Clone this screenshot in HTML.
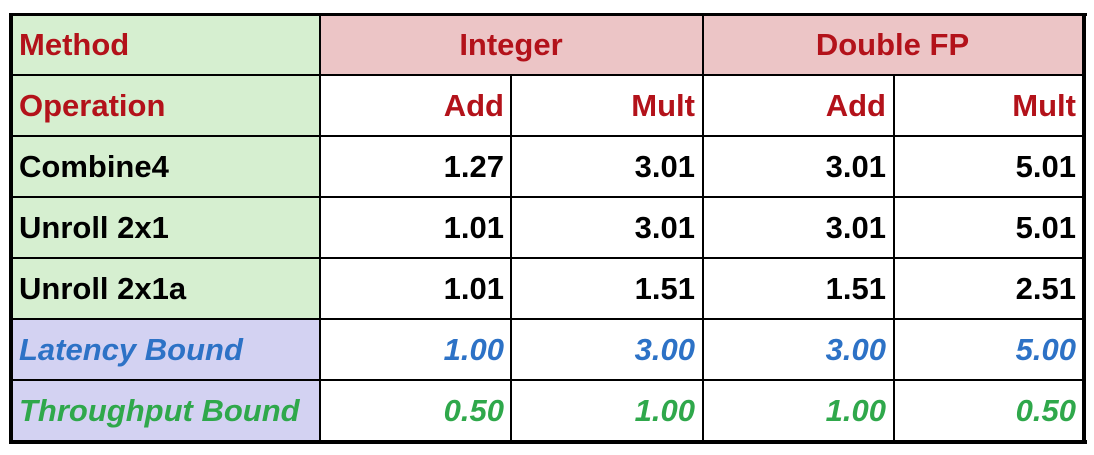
<!DOCTYPE html>
<html><head><meta charset="utf-8"><style>
body{margin:0;background:#fff;width:1094px;height:455px;position:relative;overflow:hidden;font-family:"Liberation Sans",sans-serif;font-weight:bold}
.c{position:absolute;box-sizing:border-box;display:flex;align-items:center;font-size:31px;padding:0 7px;white-space:nowrap}
.r{justify-content:flex-end}
.m{justify-content:center}
.red{color:#b3121a}.blk{color:#000}.blu{color:#2d72c6;font-style:italic}.grn{color:#2fa84b;font-style:italic}
.ln{position:absolute;background:#000}
</style></head><body>
<div id="t"></div>
<script>
const rowsY=[14,75,136,197,258,319,380,441];
const colsX=[12,320,511,702,893,1083];
const methods=["Combine4","Unroll 2x1","Unroll 2x1a","Latency Bound","Throughput Bound"];
const values=[["1.27","3.01","3.01","5.01"],["1.01","3.01","3.01","5.01"],["1.01","1.51","1.51","2.51"],["1.00","3.00","3.00","5.00"],["0.50","1.00","1.00","0.50"]];
const t=document.getElementById('t');
function cell(x0,x1,y0,y1,text,cls,bg,name){
 const d=document.createElement('div');
 d.className='c '+cls;
 d.style.left=x0+'px';d.style.top=y0+'px';d.style.width=(x1-x0)+'px';d.style.height=(y1-y0)+'px';
 if(bg)d.style.background=bg;
 d.textContent=text;
 
 
 t.appendChild(d);
}
const G='#d6efd0',P='#ecc5c6',L='#d3d2f2';
cell(colsX[0],colsX[1],rowsY[0],rowsY[1],"Method","red",G,"method-header");
cell(colsX[1],colsX[3],rowsY[0],rowsY[1],"Integer","red m",P,"integer-header");
cell(colsX[3],colsX[5],rowsY[0],rowsY[1],"Double FP","red m",P,"double-fp-header");
cell(colsX[0],colsX[1],rowsY[1],rowsY[2],"Operation","red",G,"operation-header");
["Add","Mult","Add","Mult"].forEach((s,i)=>cell(colsX[i+1],colsX[i+2],rowsY[1],rowsY[2],s,"red r",null,"op-"+s.toLowerCase()+"-"+i));
methods.forEach((m,r)=>{
 const cls=r<3?"blk":(r==3?"blu":"grn");
 const bg=r<3?G:L;
 cell(colsX[0],colsX[1],rowsY[r+2],rowsY[r+3],m,cls,bg,"method-"+m.toLowerCase().replace(/ /g,'-'));
 values[r].forEach((v,i)=>cell(colsX[i+1],colsX[i+2],rowsY[r+2],rowsY[r+3],v,cls+" r",null,"value-"+r+"-"+i));
});
function line(x,y,w,h,name){
 const d=document.createElement('div');d.className='ln';
 d.style.left=x+'px';d.style.top=y+'px';d.style.width=w+'px';d.style.height=h+'px';
 
 
 t.appendChild(d);
}
for(let i=1;i<rowsY.length-1;i++){line(10,rowsY[i]-1,1076,2,"row-line");}
line(9,13,1078,3,"top-border");line(9,rowsY[7]-1,1078,4,"bottom-border");
line(9,13,4,431,"left-border");line(1082,13,4,431,"right-border");
line(319,13,2,430,"col-line");line(702,13,2,430,"col-line");
line(510,rowsY[1],2,rowsY[7]-rowsY[1],"col-line");line(893,rowsY[1],2,rowsY[7]-rowsY[1],"col-line");
</script>
</body></html>
